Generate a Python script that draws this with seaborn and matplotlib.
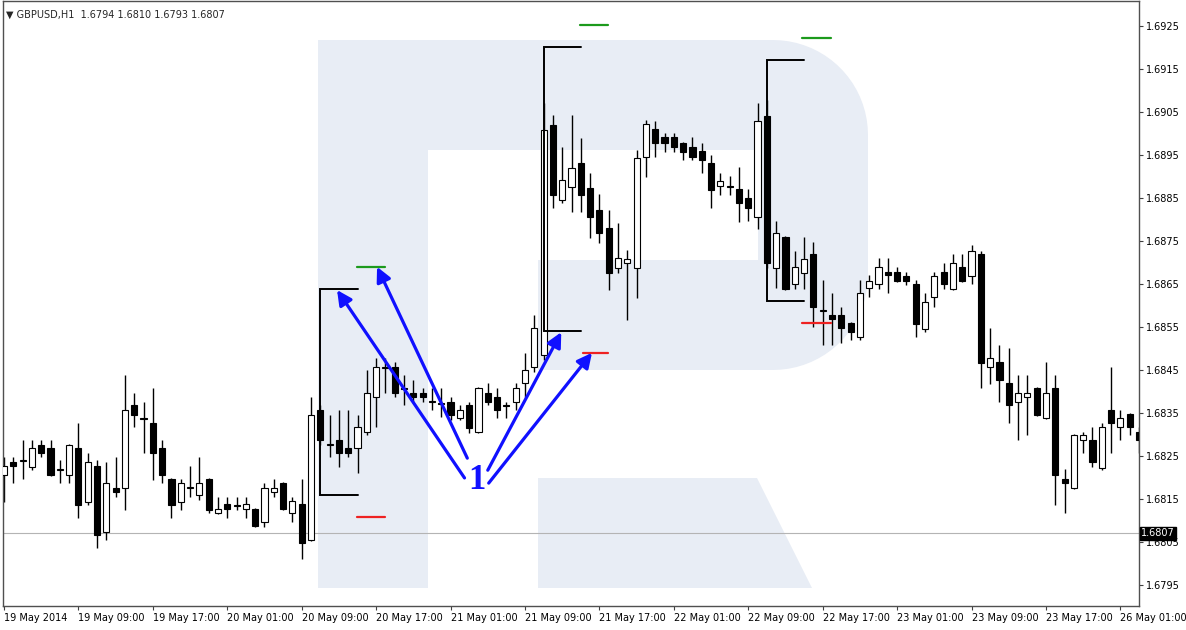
import matplotlib
matplotlib.use('AGG')
import matplotlib.pyplot as plt
import matplotlib.transforms as mtransforms
from matplotlib.patches import Polygon
import seaborn as sns
import numpy as np
import pandas as pd

# GBPUSD H1 candles, 19 May 2014 01:00 onwards
opens = [1.68206, 1.68236, 1.68238, 1.68224, 1.68276, 1.68269, 1.68217, 1.68206, 1.68269, 1.68143,
         1.68227, 1.68073, 1.68176, 1.68176, 1.68369, 1.68338, 1.68327, 1.68269, 1.68197, 1.68143,
         1.68176, 1.68159, 1.68197, 1.68118, 1.68138, 1.68136, 1.68127, 1.68127, 1.68097, 1.68166,
         1.68187, 1.68118, 1.68138, 1.68055, 1.68357, 1.68276, 1.68287, 1.68269, 1.68269, 1.68306,
         1.68387, 1.68455, 1.68457, 1.68408, 1.68397, 1.68397, 1.68376, 1.68373, 1.68376, 1.68338,
         1.68369, 1.68306, 1.68397, 1.68387, 1.68369, 1.68376, 1.68420, 1.68457, 1.68485, 1.69020,
         1.68845, 1.68876, 1.68931, 1.68873, 1.68822, 1.68780, 1.68687, 1.68699, 1.68687, 1.68945,
         1.69011, 1.68992, 1.68992, 1.68978, 1.68969, 1.68959, 1.68931, 1.68878, 1.68878, 1.68871,
         1.68850, 1.68806, 1.69041, 1.68687, 1.68759, 1.68650, 1.68676, 1.68720, 1.68587, 1.68578,
         1.68578, 1.68559, 1.68527, 1.68641, 1.68650, 1.68678, 1.68678, 1.68669, 1.68650, 1.68545,
         1.68620, 1.68678, 1.68638, 1.68690, 1.68669, 1.68720, 1.68457, 1.68469, 1.68420, 1.68376,
         1.68387, 1.68408, 1.68338, 1.68408, 1.68197, 1.68176, 1.68287, 1.68287, 1.68222, 1.68357,
         1.68318, 1.68348, 1.68306]
highs = [1.68248, 1.68248, 1.68287, 1.68287, 1.68287, 1.68287, 1.68241, 1.68278, 1.68327, 1.68257,
         1.68241, 1.68236, 1.68248, 1.68438, 1.68397, 1.68376, 1.68408, 1.68287, 1.68199, 1.68197,
         1.68227, 1.68248, 1.68199, 1.68155, 1.68155, 1.68155, 1.68155, 1.68129, 1.68187, 1.68197,
         1.68189, 1.68155, 1.68197, 1.68387, 1.68369, 1.68345, 1.68357, 1.68357, 1.68345, 1.68450,
         1.68478, 1.68478, 1.68469, 1.68438, 1.68427, 1.68408, 1.68408, 1.68408, 1.68387, 1.68369,
         1.68376, 1.68410, 1.68420, 1.68408, 1.68376, 1.68420, 1.68490, 1.68578, 1.69071, 1.69043,
         1.68969, 1.69043, 1.68990, 1.68908, 1.68859, 1.68822, 1.68792, 1.68729, 1.68962, 1.69031,
         1.69029, 1.69001, 1.69001, 1.68980, 1.68992, 1.68978, 1.68950, 1.68908, 1.68901, 1.68922,
         1.68871, 1.69071, 1.69078, 1.68796, 1.68761, 1.68727, 1.68759, 1.68748, 1.68659, 1.68629,
         1.68597, 1.68561, 1.68659, 1.68671, 1.68711, 1.68711, 1.68690, 1.68678, 1.68659, 1.68629,
         1.68678, 1.68699, 1.68720, 1.68720, 1.68741, 1.68727, 1.68548, 1.68508, 1.68501, 1.68438,
         1.68438, 1.68410, 1.68469, 1.68438, 1.68220, 1.68301, 1.68306, 1.68318, 1.68327, 1.68457,
         1.68357, 1.68350, 1.68318]
lows = [1.68143, 1.68187, 1.68197, 1.68217, 1.68248, 1.68204, 1.68187, 1.68187, 1.68106, 1.68136,
        1.68036, 1.68055, 1.68155, 1.68124, 1.68318, 1.68257, 1.68194, 1.68187, 1.68106, 1.68124,
        1.68155, 1.68148, 1.68118, 1.68115, 1.68106, 1.68124, 1.68106, 1.68085, 1.68085, 1.68155,
        1.68125, 1.68097, 1.68011, 1.68053, 1.68276, 1.68248, 1.68224, 1.68248, 1.68211, 1.68299,
        1.68318, 1.68397, 1.68387, 1.68369, 1.68373, 1.68376, 1.68357, 1.68341, 1.68334, 1.68334,
        1.68304, 1.68304, 1.68369, 1.68338, 1.68338, 1.68357, 1.68387, 1.68445, 1.68473, 1.68827,
        1.68838, 1.68817, 1.68817, 1.68757, 1.68745, 1.68636, 1.68676, 1.68566, 1.68618, 1.68899,
        1.68945, 1.68957, 1.68957, 1.68938, 1.68938, 1.68908, 1.68827, 1.68857, 1.68857, 1.68794,
        1.68796, 1.68778, 1.68687, 1.68641, 1.68636, 1.68638, 1.68638, 1.68550, 1.68508, 1.68508,
        1.68513, 1.68520, 1.68520, 1.68620, 1.68638, 1.68629, 1.68655, 1.68648, 1.68527, 1.68538,
        1.68597, 1.68638, 1.68636, 1.68655, 1.68650, 1.68408, 1.68418, 1.68376, 1.68327, 1.68287,
        1.68299, 1.68343, 1.68336, 1.68136, 1.68118, 1.68174, 1.68257, 1.68224, 1.68217, 1.68257,
        1.68287, 1.68299, 1.68257]
closes = [1.68227, 1.68227, 1.68241, 1.68269, 1.68257, 1.68206, 1.68220, 1.68276, 1.68136, 1.68236,
          1.68066, 1.68187, 1.68166, 1.68357, 1.68345, 1.68336, 1.68257, 1.68206, 1.68136, 1.68187,
          1.68178, 1.68187, 1.68124, 1.68127, 1.68127, 1.68134, 1.68138, 1.68087, 1.68176, 1.68176,
          1.68127, 1.68145, 1.68048, 1.68345, 1.68287, 1.68278, 1.68257, 1.68257, 1.68318, 1.68397,
          1.68457, 1.68457, 1.68397, 1.68406, 1.68387, 1.68387, 1.68378, 1.68371, 1.68345, 1.68357,
          1.68315, 1.68408, 1.68376, 1.68357, 1.68367, 1.68408, 1.68450, 1.68548, 1.69008, 1.68857,
          1.68892, 1.68920, 1.68857, 1.68806, 1.68769, 1.68676, 1.68711, 1.68708, 1.68943, 1.69022,
          1.68978, 1.68978, 1.68969, 1.68957, 1.68945, 1.68938, 1.68869, 1.68890, 1.68876, 1.68838,
          1.68827, 1.69029, 1.68699, 1.68769, 1.68638, 1.68690, 1.68708, 1.68597, 1.68590, 1.68569,
          1.68548, 1.68538, 1.68629, 1.68657, 1.68690, 1.68671, 1.68657, 1.68657, 1.68557, 1.68608,
          1.68669, 1.68650, 1.68699, 1.68657, 1.68727, 1.68466, 1.68478, 1.68427, 1.68369, 1.68397,
          1.68397, 1.68345, 1.68397, 1.68206, 1.68187, 1.68299, 1.68299, 1.68236, 1.68318, 1.68327,
          1.68338, 1.68318, 1.68287]

tick_bars = [0, 8, 16, 24, 32, 40, 48, 56, 64, 72, 80, 88, 96, 104, 112, 120]
tick_labels = ['19 May 2014', '19 May 09:00', '19 May 17:00', '20 May 01:00', '20 May 09:00',
               '20 May 17:00', '21 May 01:00', '21 May 09:00', '21 May 17:00', '22 May 01:00',
               '22 May 09:00', '22 May 17:00', '23 May 01:00', '23 May 09:00', '23 May 17:00',
               '26 May 01:00']
price_ticks = [1.6795, 1.6805, 1.6815, 1.6825, 1.6835, 1.6845, 1.6855, 1.6865, 1.6875,
               1.6885, 1.6895, 1.6905, 1.6915, 1.6925]
last_price = 1.6807
header = '\u25bc GBPUSD,H1  1.6794 1.6810 1.6793 1.6807'

# range brackets: (bar, end bar, top, bottom)
brackets = [(34, 38, 1.68638, 1.68159), (58, 62, 1.69201, 1.68541), (82, 86, 1.69171, 1.68610)]
# target lines: (start bar, end bar, price)
green_lines = [(37.9, 40.9, 1.68690), (61.9, 64.9, 1.69252), (85.8, 88.9, 1.69222)]
red_lines = [(37.9, 40.9, 1.68108), (62.2, 64.9, 1.68490), (85.8, 88.9, 1.68559)]
# arrows from the "1" label: (tail bar, tail price, tip bar, tip price)
arrows = [(49.5, 1.68199, 35.8, 1.68636), (49.8, 1.68245, 40.1, 1.68690),
          (52.0, 1.68217, 59.9, 1.68538), (52.1, 1.68187, 63.2, 1.68490)]
label_pos = (50.8, 1.68192)

df = pd.DataFrame({'open': opens, 'high': highs, 'low': lows, 'close': closes})
df['bar'] = np.arange(len(df))
df['up'] = df['close'] >= df['open']

sns.set_theme(style='white')
plt.rcParams['font.family'] = ['DejaVu Sans']

W, H = 1186, 630
AX_L, AX_R, AX_T, AX_B = 2.7, 1139.0, 1.0, 606.0
fig = plt.figure(figsize=(W / 100, H / 100), dpi=100)
ax = fig.add_axes([AX_L / W, 1 - AX_B / H, (AX_R - AX_L) / W, (AX_B - AX_T) / H])


def px(x, y):
    return ((x - AX_L) / (AX_R - AX_L), (AX_B - y) / (AX_B - AX_T))


# watermark logo
wm = '#e8edf5'
outer = [(318, 588), (318, 40)]
cx, cy1, cy2, r = 773, 135, 275, 95
for t in np.linspace(np.pi / 2, 0, 20):
    outer.append((cx + r * np.cos(t), cy1 - r * np.sin(t)))
for t in np.linspace(0, -np.pi / 2, 20):
    outer.append((cx + r * np.cos(t), cy2 - r * np.sin(t)))
outer += [(538, 370), (538, 260), (758, 260), (758, 150), (428, 150), (428, 588)]
ax.add_patch(Polygon([px(*p) for p in outer], closed=True, transform=ax.transAxes,
                     facecolor=wm, edgecolor='none', zorder=0))
leg = [(538, 478), (757, 478), (812, 588), (538, 588)]
ax.add_patch(Polygon([px(*p) for p in leg], closed=True, transform=ax.transAxes,
                     facecolor=wm, edgecolor='none', zorder=0))

ax.axhline(last_price, color='#b4b4b4', lw=0.8, zorder=1)

# candles
ax.vlines(df['bar'], df['low'], df['high'], color='black', lw=1.0, zorder=2)
body_bottom = np.minimum(df['open'], df['close'])
body_height = np.abs(df['close'] - df['open'])
ax.bar(df['bar'], body_height, bottom=body_bottom, width=0.66,
       color=np.where(df['up'], 'white', 'black'), edgecolor='black', linewidth=0.8, zorder=3)

for b0, b1, top, bot in brackets:
    ax.plot([b1, b0, b0, b1], [top, top, bot, bot], color='black', lw=1.4, zorder=4,
            solid_joinstyle='miter')
for b0, b1, p in green_lines:
    ax.plot([b0, b1], [p, p], color='#1c9a1c', lw=1.6, zorder=4)
for b0, b1, p in red_lines:
    ax.plot([b0, b1], [p, p], color='#ee2222', lw=1.6, zorder=4)

for tx, ty, hx, hy in arrows:
    ax.annotate('', xy=(hx, hy), xytext=(tx, ty),
                arrowprops=dict(arrowstyle='-|>', color='#1010ff', lw=2.3,
                                mutation_scale=22, shrinkA=0, shrinkB=0), zorder=5)
ax.text(label_pos[0], label_pos[1], '1', color='#1010ff', fontsize=25, fontweight='bold',
        family=['Liberation Serif', 'DejaVu Serif'], ha='center', va='center', zorder=6)

ax.set_xlim(-0.14, 122.0)
ax.set_ylim(1.693105 - AX_B / 43000, 1.693105 - AX_T / 43000)

ax.set_xticks(tick_bars)
ax.set_xticklabels(tick_labels, ha='left', fontsize=7)
ax.yaxis.tick_right()
ax.set_yticks(price_ticks)
ax.set_yticklabels(['%.4f' % p for p in price_ticks], fontsize=7)
ax.tick_params(axis='both', which='both', direction='out', length=3, width=0.8,
               color='#404040', pad=2, labelcolor='black')
ax.tick_params(axis='x', bottom=True)
ax.tick_params(axis='y', right=True, left=False)
for s in ax.spines.values():
    s.set_color('#505050')
    s.set_linewidth(1.0)

ax.text(0.003, 0.985, header, transform=ax.transAxes, fontsize=7, ha='left', va='top')

trans = mtransforms.blended_transform_factory(ax.transAxes, ax.transData)
ax.text(1.002, last_price, '%.4f' % last_price, transform=trans, fontsize=7, color='white',
        ha='left', va='center', zorder=7,
        bbox=dict(boxstyle='square,pad=0.15', facecolor='black', edgecolor='black'))

plt.savefig('out.png', dpi=100)
